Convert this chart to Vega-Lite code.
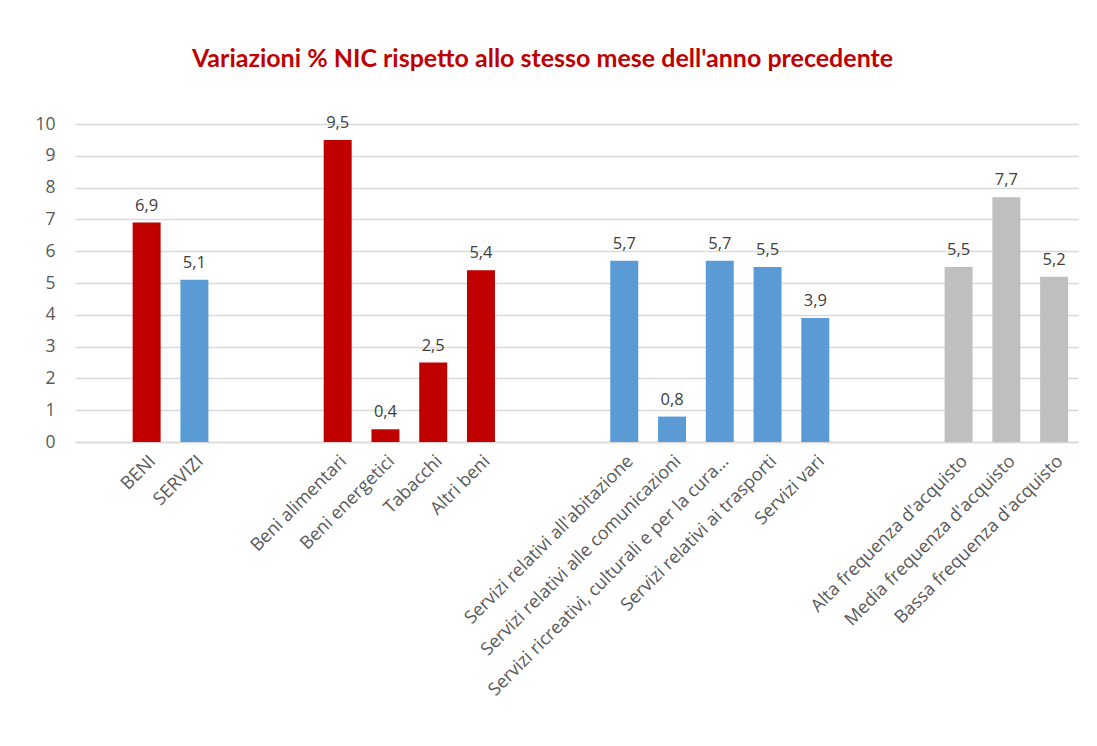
{
  "$schema": "https://vega.github.io/schema/vega-lite/v6.json",
  "width": 1003,
  "height": 318,
  "autosize": {"type": "none"},
  "padding": {"left": 75, "top": 124, "right": 19, "bottom": 304},
  "background": "white",
  "title": {
    "text": "Variazioni % NIC rispetto allo stesso mese dell'anno precedente",
    "font": "Lato",
    "fontSize": 25,
    "fontWeight": "bold",
    "color": "#C00000",
    "anchor": "middle",
    "dx": -34,
    "dy": 4,
    "offset": 47
  },
  "config": {
    "locale": {"number": {"decimal": ",", "thousands": ".", "grouping": [3], "currency": ["€", ""]}},
    "view": {"stroke": null},
    "font": "Open Sans"
  },
  "data": {
    "values": [
      {"voce": "BENI", "valore": 6.9, "gruppo": "Beni"},
      {"voce": "SERVIZI", "valore": 5.1, "gruppo": "Servizi"},
      {"voce": "Beni alimentari", "valore": 9.5, "gruppo": "Beni"},
      {"voce": "Beni energetici", "valore": 0.4, "gruppo": "Beni"},
      {"voce": "Tabacchi", "valore": 2.5, "gruppo": "Beni"},
      {"voce": "Altri beni", "valore": 5.4, "gruppo": "Beni"},
      {"voce": "Servizi relativi all'abitazione", "valore": 5.7, "gruppo": "Servizi"},
      {"voce": "Servizi relativi alle comunicazioni", "valore": 0.8, "gruppo": "Servizi"},
      {"voce": "Servizi ricreativi, culturali e per la cura…", "valore": 5.7, "gruppo": "Servizi"},
      {"voce": "Servizi relativi ai trasporti", "valore": 5.5, "gruppo": "Servizi"},
      {"voce": "Servizi vari", "valore": 3.9, "gruppo": "Servizi"},
      {"voce": "Alta frequenza d'acquisto", "valore": 5.5, "gruppo": "Frequenza"},
      {"voce": "Media frequenza d'acquisto", "valore": 7.7, "gruppo": "Frequenza"},
      {"voce": "Bassa frequenza d'acquisto", "valore": 5.2, "gruppo": "Frequenza"}
    ]
  },
  "encoding": {
    "x": {
      "field": "voce",
      "type": "nominal",
      "scale": {
        "domain": [" ", "BENI", "SERVIZI", "  ", "   ", "Beni alimentari", "Beni energetici", "Tabacchi", "Altri beni", "    ", "     ", "Servizi relativi all'abitazione", "Servizi relativi alle comunicazioni", "Servizi ricreativi, culturali e per la cura…", "Servizi relativi ai trasporti", "Servizi vari", "      ", "       ", "Alta frequenza d'acquisto", "Media frequenza d'acquisto", "Bassa frequenza d'acquisto"],
        "paddingInner": 0.414,
        "paddingOuter": 0.207
      },
      "axis": {
        "title": null,
        "labelAngle": -45,
        "labelFontSize": 18,
        "labelColor": "#595959",
        "labelPadding": 10,
        "ticks": false,
        "domainColor": "#D9D9D9",
        "domainWidth": 1.5,
        "labelLimit": 400
      }
    },
    "y": {
      "field": "valore",
      "type": "quantitative",
      "scale": {"domain": [0, 10], "nice": false},
      "axis": {
        "title": null,
        "values": [0, 1, 2, 3, 4, 5, 6, 7, 8, 9, 10],
        "labelFontSize": 17.5,
        "labelColor": "#595959",
        "labelPadding": 20,
        "ticks": false,
        "domain": false,
        "gridColor": "#D9D9D9",
        "gridWidth": 1.3
      }
    }
  },
  "layer": [
    {
      "mark": {"type": "bar"},
      "encoding": {
        "color": {
          "field": "gruppo",
          "type": "nominal",
          "scale": {"domain": ["Beni", "Servizi", "Frequenza"], "range": ["#C00000", "#5B9BD5", "#BFBFBF"]},
          "legend": null
        }
      }
    },
    {
      "mark": {"type": "text", "dy": -17, "fontSize": 16.5, "color": "#404040", "baseline": "middle"},
      "encoding": {
        "text": {"field": "valore", "type": "quantitative", "format": ".1f"}
      }
    }
  ]
}
